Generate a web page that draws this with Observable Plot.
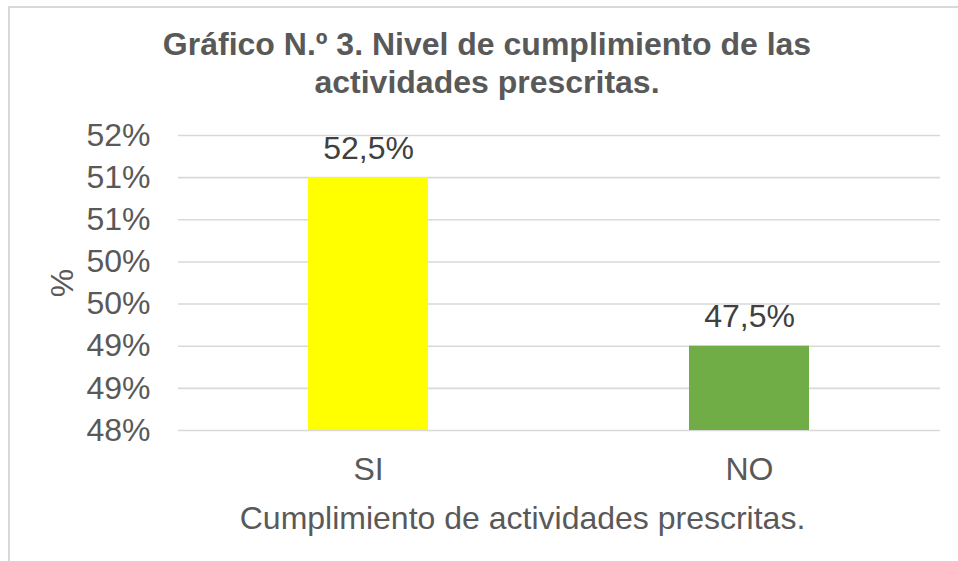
<!DOCTYPE html>
<html>
<head>
<meta charset="utf-8">
<script src="https://cdn.jsdelivr.net/npm/d3@7"></script>
<script src="https://cdn.jsdelivr.net/npm/@observablehq/plot@0.6"></script>
<style>
  html, body { margin: 0; padding: 0; background: #ffffff; }
  #wrap { position: relative; width: 958px; height: 561px; overflow: hidden; font-family: "Liberation Sans", Arial, sans-serif; }
  #frame { position: absolute; left: 8px; top: 6px; width: 1000px; height: 600px; border-left: 2px solid #d9d9d9; border-top: 2px solid #d9d9d9; z-index: 2; pointer-events: none; }
  #title { position: absolute; left: 8px; top: 25px; width: 958px; text-align: center; font-weight: bold; font-size: 32px; line-height: 38px; color: #595959; z-index: 3; }
  #chart { position: absolute; left: 0; top: 0; z-index: 1; }
</style>
</head>
<body>
<div id="wrap">
  <div id="chart"></div>
  <div id="frame"></div>
  <div id="title">Gráfico N.º 3. Nivel de cumplimiento de las<br>actividades prescritas.</div>
</div>
<script>
const categories = ["SI", "NO"];
const values = [52.5, 47.5];
const valueLabels = ["52,5%", "47,5%"];
const barColors = ["#FFFF00", "#70AD47"];
const yTicks = [45, 46.25, 47.5, 48.75, 50, 51.25, 52.5, 53.75];
const yTickLabels = ["48%", "49%", "49%", "50%", "50%", "51%", "51%", "52%"];
const xTitle = "Cumplimiento de actividades prescritas.";
const yTitle = "%";

const data = categories.map((c, i) => ({cat: c, value: values[i], label: valueLabels[i], color: barColors[i]}));

const chart = Plot.plot({
  width: 958,
  height: 561,
  marginTop: 135,
  marginBottom: 131,
  marginLeft: 178,
  marginRight: 18,
  style: {background: "transparent", fontFamily: "Liberation Sans, Arial, sans-serif", fontSize: "32px", color: "#595959"},
  x: {domain: categories, paddingInner: 0.685, paddingOuter: 0.3425},
  y: {domain: [yTicks[0], yTicks[yTicks.length - 1]]},
  marks: [
    Plot.gridY(yTicks, {stroke: "#d9d9d9", strokeOpacity: 1, strokeWidth: 1.6}),
    Plot.barY(data, {x: "cat", y1: yTicks[0], y2: "value", fill: "color"}),
    Plot.text(data, {x: "cat", y: "value", text: "label", lineAnchor: "bottom", dy: -19, fill: "#404040", fontSize: 32}),
    Plot.axisY(yTicks, {tickSize: 0, tickPadding: 28, tickFormat: (d, i) => yTickLabels[i], fill: "#595959", fontSize: 32,
      label: yTitle, labelAnchor: "center", labelOffset: 128, labelArrow: "none"}),
    Plot.axisX({tickSize: 0, tickPadding: 27, fill: "#595959", fontSize: 32, label: null}),
    Plot.text([xTitle], {frameAnchor: "bottom", text: d => d, dx: -37, dy: 98, lineAnchor: "bottom", fill: "#595959", fontSize: 32})
  ]
});
document.getElementById("chart").appendChild(chart);
</script>
</body>
</html>
